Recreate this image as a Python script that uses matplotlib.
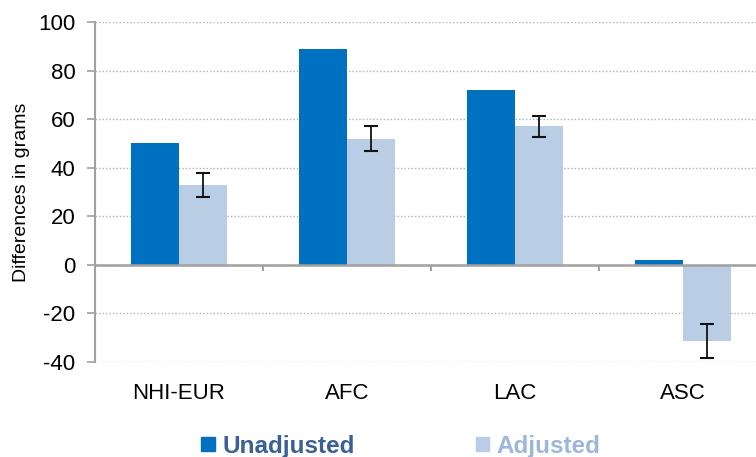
import numpy as np
import matplotlib.pyplot as plt
from matplotlib.patches import Patch

# data
REGIONS = ['NHI-EUR', 'AFC', 'LAC', 'ASC']
UNADJUSTED = [50, 89, 72, 2]
ADJUSTED = [33, 52, 57, -31.5]
ADJ_ERR = [5, 5.2, 4.4, 7]
Y_TICKS = [-40, -20, 0, 20, 40, 60, 80, 100]

DARK = '#0070C0'
LIGHT = '#B9CDE5'
AXIS_GRAY = '#A0A0A0'

plt.rcParams['font.family'] = ['Liberation Sans', 'DejaVu Sans']

fig = plt.figure(figsize=(7.56, 4.57), dpi=100)
ax = fig.add_axes([95/756, 95/457, 672/756, 340/457])

x = np.arange(len(REGIONS))
w = 0.286
ax.bar(x - w/2, UNADJUSTED, w, color=DARK, zorder=3)
ax.bar(x + w/2, ADJUSTED, w, color=LIGHT, zorder=3)
ax.errorbar(x + w/2, ADJUSTED, yerr=ADJ_ERR, fmt='none', ecolor='#111111',
            elinewidth=1.3, capsize=5, capthick=1.5, zorder=4)

ax.set_xlim(-0.5, len(REGIONS) - 0.5)
ax.set_ylim(-40, 100)
ax.set_yticks(Y_TICKS)
ax.set_yticklabels([str(v) for v in Y_TICKS], fontsize=16)
ax.yaxis.grid(True, linestyle=(0, (1, 1.5)), color='#B0B0B0', linewidth=1)
ax.set_axisbelow(True)

ax.set_xticks(x)
ax.set_xticklabels(REGIONS, fontsize=16)
ax.tick_params(axis='x', length=0, pad=15)
ax.tick_params(axis='y', length=6, width=1.2, color=AXIS_GRAY, pad=8)

for side in ['top', 'right', 'bottom']:
    ax.spines[side].set_visible(False)
ax.spines['left'].set_color(AXIS_GRAY)
ax.spines['left'].set_linewidth(1.5)

# zero line with category separators
ax.axhline(0, color=AXIS_GRAY, linewidth=1.8, zorder=5)
ax.vlines(x[:-1] + 0.5, 0, -2.6, color=AXIS_GRAY, linewidth=1.5, zorder=5)

ax.set_ylabel('Differences in grams', fontsize=14, labelpad=6)

handles = [Patch(color=DARK, label='Unadjusted'), Patch(color=LIGHT, label='Adjusted')]
leg = fig.legend(handles=handles, loc='center', bbox_to_anchor=(401/756, 1 - 446/457),
                 ncol=2, frameon=False, handlelength=0.55, handleheight=0.55,
                 handletextpad=0.3, columnspacing=5.0,
                 prop={'size': 17.5, 'weight': 'bold'})
leg.get_texts()[0].set_color('#3A6098')
leg.get_texts()[1].set_color('#9DB7DC')

fig.savefig('out.png', dpi=100)
